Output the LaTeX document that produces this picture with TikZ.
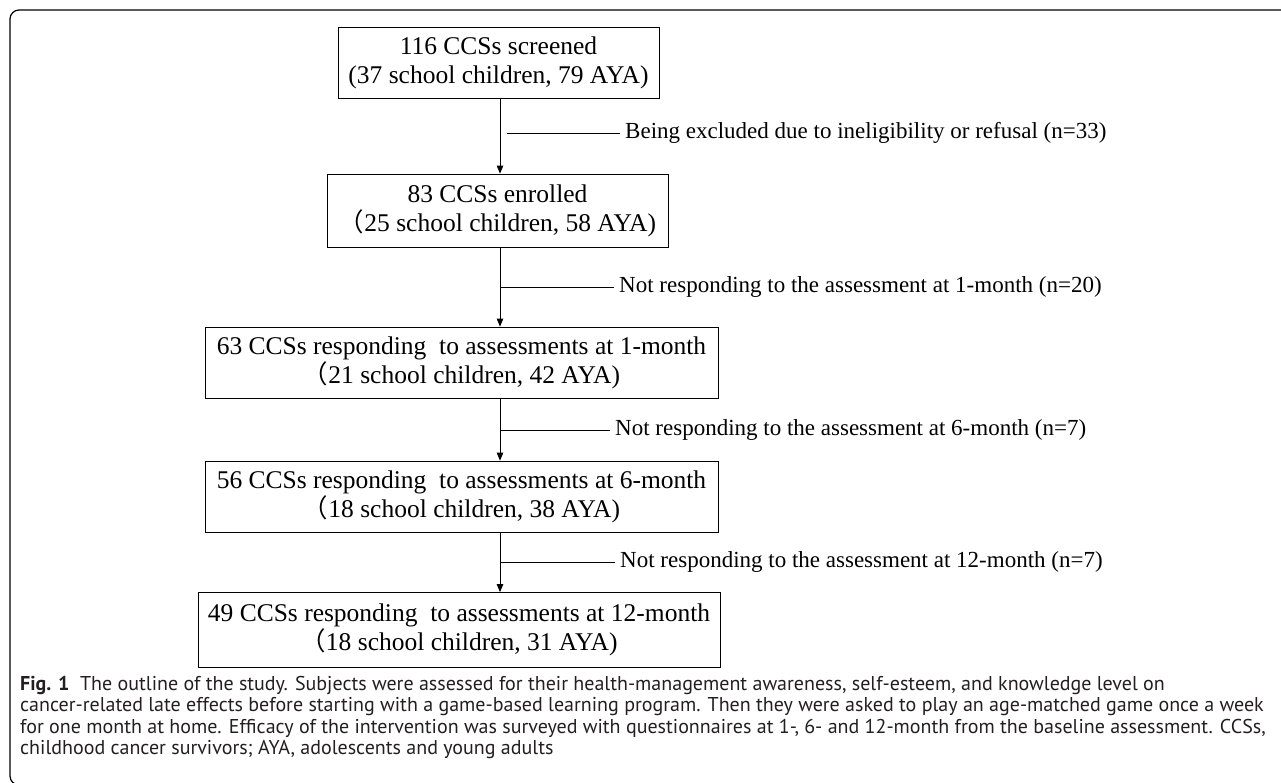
\documentclass[tikz,border=0pt]{standalone}
\usepackage{fontspec}
\setmainfont{Liberation Serif}
\newfontfamily\capfont{PT Sans}
\newfontfamily\cjk{Noto Sans CJK JP}
\usetikzlibrary{arrows.meta}

\definecolor{captext}{HTML}{231F20}
\newcommand{\fwp}{{\cjk （}}

\begin{document}
\begin{tikzpicture}[x=1pt,y=-1pt,
    box/.style={draw,line width=0.8pt,inner sep=0pt,align=center,
        font=\fontsize{25.5}{29}\selectfont},
    note/.style={anchor=west,inner xsep=5pt,inner ysep=0pt,
        font=\fontsize{23}{26}\selectfont},
    flow/.style={line width=0.8pt,-{Triangle[length=8pt,width=6.5pt]}},
    branch/.style={line width=0.8pt}]

\useasboundingbox (0,0) rectangle (1281,782);

% Frame
\draw[line width=1.2pt,rounded corners=9pt] (1300,10) -- (10,10) -- (10,785) -- (60,785);

% Boxes
\node[box,minimum width=321pt,minimum height=71pt] (screened) at (498.5,62.5)
    {116 CCSs screened\\(37 school children, 79 AYA)};
\node[box,minimum width=341pt,minimum height=73pt] (enrolled) at (497.5,210.5)
    {83 CCSs enrolled\\\fwp 25 school children, 58 AYA)};
\node[box,minimum width=513pt,minimum height=71pt] (month1) at (461.5,362.5)
    {63 CCSs responding\ \ to assessments at 1-month\\\fwp 21 school children, 42 AYA)};
\node[box,minimum width=513pt,minimum height=71pt] (month6) at (461.5,496.5)
    {56 CCSs responding\ \ to assessments at 6-month\\\fwp 18 school children, 38 AYA)};
\node[box,minimum width=522pt,minimum height=75pt] (month12) at (459,630)
    {49 CCSs responding\ \ to assessments at 12-month\\\fwp 18 school children, 31 AYA)};

% Main column
\coordinate (col) at (500,0);
\draw[flow] (screened.south -| col) -- (enrolled.north -| col);
\draw[flow] (enrolled.south -| col) -- (month1.north -| col);
\draw[flow] (month1.south -| col) -- (month6.north -| col);
\draw[flow] (month6.south -| col) -- (month12.north -| col);

% Drop-outs
\node[note] (excl) at (620,133) {Being excluded due to ineligibility or refusal (n=33)};
\node[note] (lost1) at (614,287) {Not responding to the assessment at 1-month (n=20)};
\node[note] (lost6) at (610,430) {Not responding to the assessment at 6-month (n=7)};
\node[note] (lost12) at (615,562) {Not responding to the assessment at 12-month (n=7)};
\draw[branch,shorten <=7pt] (col |- excl.west) -- (excl.west);
\draw[branch] (col |- lost1.west) -- (lost1.west);
\draw[branch] (col |- lost6.west) -- (lost6.west);
\draw[branch] (col |- lost12.west) -- (lost12.west);

% Caption
\node[anchor=north west,align=left,inner sep=0pt,text=captext,
    font=\capfont\fontsize{20}{21.5}\selectfont] (caption) at (20,676)
    {\textbf{Fig. 1}\ \ The outline of the study. Subjects were assessed for their health-management awareness, self-esteem, and knowledge level on\\
    cancer-related late effects before starting with a game-based learning program. Then they were asked to play an age-matched game once a week\\
    for one month at home. Efficacy of the intervention was surveyed with questionnaires at 1-, 6- and 12-month from the baseline assessment. CCSs,\\
    childhood cancer survivors; AYA, adolescents and young adults};

\end{tikzpicture}
\end{document}
